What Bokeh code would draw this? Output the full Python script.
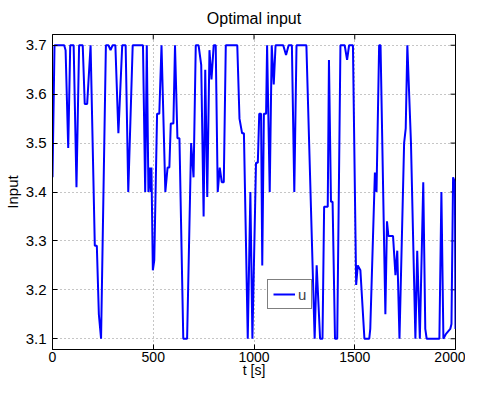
import math
from bokeh.plotting import figure
from bokeh.models import Range1d, FixedTicker, Legend, LegendItem
from bokeh.embed import file_html
from bokeh.resources import INLINE

# ---- data ----
t = [0, 10, 58, 65, 78, 88, 105, 119, 132, 150, 160, 172, 189, 210, 220, 230, 241,
     265, 278, 288, 298, 312, 327, 346, 363, 376, 398, 449, 460, 468, 476, 483, 488,
     491, 498, 505, 519, 530, 541, 560, 571, 580, 587, 600, 608, 620, 630, 649, 668,
     688, 700, 711, 725, 738, 750, 758, 768, 779, 789, 800, 810, 820, 830, 840, 850,
     860, 917, 928, 941, 950, 969, 982, 992, 1010, 1019, 1026, 1035, 1041, 1049, 1060,
     1065, 1078, 1088, 1098, 1107, 1145, 1159, 1172, 1188, 1200, 1211, 1260, 1301,
     1311, 1328, 1340, 1348, 1366, 1372, 1382, 1390, 1402, 1413, 1429, 1450, 1462,
     1472, 1491, 1507, 1515, 1528, 1548, 1572, 1577, 1600, 1608, 1621, 1628, 1652,
     1660, 1667, 1690, 1702, 1711, 1722, 1745, 1753, 1761, 1779, 1801, 1810, 1823,
     1840, 1850, 1857, 1920, 1930, 1940, 1953, 1974, 1980, 1988, 1997, 2000]
u = [3.43, 3.70, 3.70, 3.69, 3.49, 3.70, 3.70, 3.41, 3.70, 3.70, 3.58, 3.58, 3.70, 3.29, 3.29, 3.15, 3.10,
     3.70, 3.70, 3.69, 3.70, 3.70, 3.52, 3.70, 3.70, 3.40, 3.70, 3.70, 3.40, 3.70, 3.40, 3.45, 3.40,
     3.45, 3.24, 3.26, 3.56, 3.56, 3.70, 3.40, 3.45, 3.45, 3.54, 3.54, 3.70, 3.51, 3.51, 3.10, 3.10,
     3.50, 3.43, 3.70, 3.70, 3.66, 3.35, 3.65, 3.39, 3.69, 3.63, 3.70, 3.70, 3.40, 3.45, 3.42, 3.42,
     3.70, 3.70, 3.55, 3.52, 3.52, 3.10, 3.40, 3.10, 3.46, 3.46, 3.56, 3.56, 3.25, 3.56, 3.56,
     3.70, 3.40, 3.70, 3.62, 3.70, 3.70, 3.68, 3.70, 3.70, 3.40, 3.70, 3.70, 3.10,
     3.25, 3.10, 3.10, 3.37, 3.37, 3.67, 3.38, 3.38, 3.10, 3.10, 3.70, 3.70, 3.67,
     3.70, 3.70, 3.21, 3.25, 3.24, 3.10, 3.10, 3.12, 3.44, 3.40, 3.70, 3.70, 3.15,
     3.34, 3.31, 3.31, 3.23, 3.28, 3.10, 3.50, 3.53, 3.70, 3.50, 3.10, 3.28, 3.10,
     3.42, 3.12, 3.10, 3.10, 3.40, 3.10, 3.11, 3.12, 3.13, 3.43, 3.42, 3.12]

x_ticks = [0, 500, 1000, 1500, 2000]
y_ticks = [3.1, 3.2, 3.3, 3.4, 3.5, 3.6, 3.7]
y_labels = ["3.1", "3.2", "3.3", "3.4", "3.5", "3.6", "3.7"]
x_lo, x_hi = 0, 2000
y_lo, y_hi = 3.078, 3.722
x_title = "t [s]"
y_title = "Input"

FONT = "Liberation Sans"

p = figure(width=465, height=380, output_backend="svg", toolbar_location=None,
           x_range=Range1d(x_lo, x_hi), y_range=Range1d(y_lo, y_hi),
           min_border_left=45, min_border_right=10, min_border_top=28, min_border_bottom=0)

p.title.text = "Optimal input"
p.title.align = "center"
p.title.text_font = FONT
p.title.text_font_size = "16px"
p.title.text_font_style = "normal"
p.title.text_color = "black"
p.title.standoff = 15

p.outline_line_color = "black"
p.outline_line_width = 1
p.background_fill_color = "white"
p.border_fill_color = "white"

for ax in p.xaxis:
    ax.ticker = FixedTicker(ticks=x_ticks)
for ax in p.yaxis:
    ax.ticker = FixedTicker(ticks=y_ticks)
    ax.major_label_overrides = {v: s for v, s in zip(y_ticks, y_labels)}

for ax in list(p.xaxis) + list(p.yaxis):
    ax.major_tick_in = 5
    ax.major_tick_out = 0
    ax.minor_tick_line_color = None
    ax.axis_line_color = "black"
    ax.major_tick_line_color = "black"
    ax.major_label_text_font = FONT
    ax.major_label_text_color = "black"
    ax.axis_label_text_font = FONT
    ax.axis_label_text_font_style = "normal"
    ax.axis_label_text_color = "black"

p.xaxis.axis_label = x_title
p.xaxis.major_label_text_font_size = "14px"
p.xaxis.axis_label_text_font_size = "14px"
p.xaxis.major_label_standoff = 2
p.xaxis.axis_label_standoff = -3

p.yaxis.axis_label = y_title
p.yaxis.major_label_text_font_size = "15px"
p.yaxis.axis_label_text_font_size = "15px"
p.yaxis.major_label_standoff = 6
p.yaxis.axis_label_standoff = 2

p.xgrid.ticker = FixedTicker(ticks=x_ticks)
p.ygrid.ticker = FixedTicker(ticks=y_ticks)
for g in (p.xgrid, p.ygrid):
    g.grid_line_color = "#8c8c8c"
    g.grid_line_dash = "1 3"
    g.grid_line_width = 1

# mirrored inward tick marks on the top and right edges
p.ray(x=x_ticks, y=[y_hi] * len(x_ticks), length=5, length_units="screen",
      angle=-math.pi / 2, line_color="black", line_width=1)
p.ray(x=[x_hi] * len(y_ticks), y=y_ticks, length=5, length_units="screen",
      angle=math.pi, line_color="black", line_width=1)

r = p.line(t, u, line_color="#0000ff", line_width=2)

legend = Legend(items=[LegendItem(label="u", renderers=[r])],
                location=(215, 40), orientation="vertical",
                border_line_color="black", border_line_width=1,
                background_fill_color="white", background_fill_alpha=1,
                label_text_font=FONT, label_text_font_size="15px",
                glyph_width=22, glyph_height=18, label_height=18, label_width=8,
                label_standoff=3, padding=5, margin=0, spacing=0)
p.add_layout(legend, "center")

open("out.html", "w").write(file_html(p, INLINE))
